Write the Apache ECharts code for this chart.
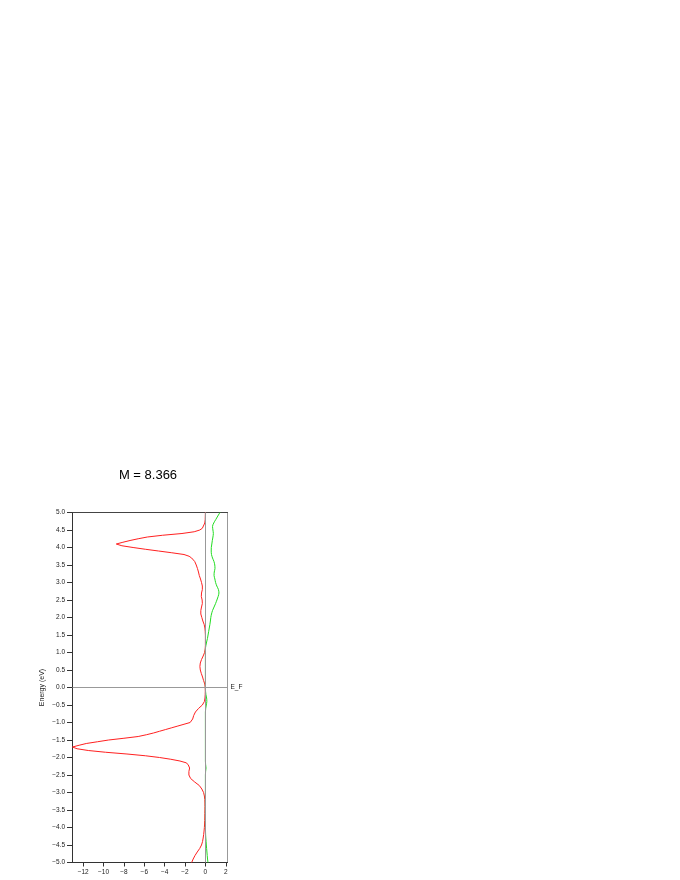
<!DOCTYPE html>
<html>
<head>
<meta charset="utf-8">
<script src="https://cdn.jsdelivr.net/npm/echarts@6/dist/echarts.min.js"></script>
<style>html,body{margin:0;padding:0;background:#fff}#c{width:680px;height:880px}</style>
</head>
<body>
<div id="c"></div>
<script>
// ---- data ----
const titleText = 'M = 8.366';
const xTickValues = [-12, -10, -8, -6, -4, -2, 0, 2];
const xRange = [-13.05, 2.17];
const yRange = [-5, 5];

const redEnergy = [
 -5.0,-4.9,-4.8,-4.7,-4.6,-4.5,-4.4,-4.3,-4.2,-4.1,
 -4.0,-3.9,-3.8,-3.7,-3.6,-3.5,-3.4,-3.3,-3.2,-3.1,
 -3.0,-2.9,-2.8,-2.7,-2.6,-2.5,-2.4,-2.3,-2.25,-2.2,
 -2.15,-2.1,-2.05,-2.0,-1.95,-1.9,-1.85,-1.8,-1.75,-1.7,
 -1.65,-1.6,-1.55,-1.5,-1.45,-1.4,-1.35,-1.3,-1.25,-1.2,
 -1.15,-1.1,-1.05,-1.0,-0.9,-0.8,-0.7,-0.6,-0.5,-0.4,
 -0.3,-0.2,-0.1,0.0,0.1,0.2,0.3,0.4,0.5,0.6,
 0.7,0.8,0.9,1.0,1.1,1.2,1.3,1.4,1.5,1.6,
 1.7,1.8,1.9,2.0,2.1,2.2,2.3,2.4,2.5,2.6,
 2.7,2.8,2.9,3.0,3.1,3.2,3.3,3.4,3.5,3.6,
 3.65,3.7,3.75,3.8,3.85,3.9,3.95,4.0,4.05,4.1,
 4.15,4.2,4.25,4.3,4.35,4.4,4.45,4.5,4.55,4.6,
 4.7,4.8,4.9,5.0
];
const redDos = [
 -1.35,-1.2,-1.02,-0.8,-0.56,-0.38,-0.28,-0.22,-0.17,-0.13,
 -0.1,-0.08,-0.07,-0.06,-0.06,-0.05,-0.05,-0.05,-0.06,-0.1,
 -0.18,-0.35,-0.6,-1.05,-1.45,-1.62,-1.62,-1.55,-1.55,-1.7,
 -1.9,-2.5,-3.4,-4.5,-5.9,-7.7,-9.8,-11.5,-12.6,-13.05,
 -12.4,-11.7,-10.6,-9.5,-8.0,-6.6,-5.8,-5.1,-4.5,-3.9,
 -3.3,-2.7,-2.1,-1.5,-1.25,-1.15,-0.98,-0.68,-0.3,-0.1,
 -0.04,-0.02,-0.01,-0.02,-0.06,-0.18,-0.28,-0.4,-0.5,-0.54,
 -0.5,-0.38,-0.22,-0.08,-0.02,0,0,0,0,-0.02,
 -0.05,-0.12,-0.25,-0.35,-0.45,-0.45,-0.38,-0.3,-0.32,-0.4,
 -0.38,-0.3,-0.3,-0.38,-0.48,-0.6,-0.68,-0.78,-0.9,-1.05,
 -1.2,-1.35,-1.6,-2.1,-3.3,-4.6,-5.9,-7.1,-8.2,-8.75,
 -8.1,-7.4,-6.6,-5.7,-4.2,-2.3,-1.1,-0.55,-0.3,-0.18,
 -0.06,-0.02,-0.01,0
];

const greenEnergy = [
 -5.0,-4.9,-4.8,-4.7,-4.6,-4.5,-4.4,-4.3,-4.2,-4.1,
 -4.0,-3.9,-3.8,-3.7,-3.6,-3.5,-3.4,-3.3,-3.2,-3.1,
 -3.0,-2.9,-2.8,-2.7,-2.6,-2.5,-2.4,-2.3,-2.2,-2.1,
 -2.0,-1.9,-1.8,-1.7,-1.6,-1.5,-1.4,-1.3,-1.2,-1.1,
 -1.0,-0.9,-0.8,-0.7,-0.6,-0.5,-0.4,-0.3,-0.2,-0.1,
 0.0,0.1,0.2,0.3,0.4,0.5,0.6,0.7,0.8,0.9,
 1.0,1.1,1.2,1.3,1.4,1.5,1.6,1.7,1.8,1.9,
 2.0,2.1,2.2,2.3,2.4,2.5,2.6,2.7,2.8,2.9,
 3.0,3.1,3.2,3.3,3.4,3.5,3.6,3.7,3.8,3.9,
 4.0,4.1,4.2,4.3,4.4,4.5,4.6,4.7,4.8,4.9,
 5.0
];
const greenDos = [
 0.25,0.21,0.18,0.15,0.12,0.09,0.07,0.04,0.02,0.01,
 0,0,0,0,0,0,0,0,0,0,
 0,0,0,0,0,0,0.02,0.06,0.02,0,
 0,0,0,0,0,0,0,0,0,0,
 0,0,0,0,0.03,0.09,0.14,0.12,0.05,0.01,
 0,0,0,0,0,0,0,0,0,0,
 0,0,0.05,0.12,0.2,0.26,0.32,0.38,0.44,0.49,
 0.53,0.6,0.7,0.85,1.0,1.13,1.25,1.33,1.28,1.12,
 1.0,0.93,0.85,0.87,0.94,0.92,0.84,0.7,0.6,0.57,
 0.58,0.63,0.68,0.74,0.78,0.74,0.7,0.82,1.02,1.22,
 1.43
];

// ---- chart ----
const FONT = 'Liberation Sans, Arial, sans-serif';
const fmtY = v => (v < 0 ? '\u2212' : '') + Math.abs(v).toFixed(1);
const fmtX = v => (v < 0 ? '\u2212' : '') + Math.abs(v);
const refLine = {color: '#999', width: 1, type: 'solid'};

const chart = echarts.init(document.getElementById('c'), null, {renderer: 'canvas'});
chart.setOption({
  animation: false,
  backgroundColor: '#fff',
  title: {
    text: titleText, left: 148, top: 469, textAlign: 'center', padding: 0,
    textStyle: {fontFamily: FONT, fontSize: 13, fontWeight: 'normal', color: '#000'}
  },
  grid: {left: 72.5, top: 512.5, width: 155, height: 350, containLabel: false},
  xAxis: [{
    type: 'value', min: xRange[0], max: xRange[1], position: 'bottom',
    axisLine: {show: true, onZero: false, lineStyle: {color: '#333', width: 1}},
    axisTick: {show: true, inside: false, length: 4, customValues: xTickValues, lineStyle: {color: '#333'}},
    axisLabel: {show: true, customValues: xTickValues, formatter: fmtX, margin: 6,
      fontFamily: FONT, fontSize: 6.5, color: '#222'},
    splitLine: {show: false}
  }, {
    type: 'value', min: xRange[0], max: xRange[1], position: 'top',
    axisLine: {show: true, onZero: false, lineStyle: {color: '#444', width: 1}},
    axisTick: {show: false}, axisLabel: {show: false}, splitLine: {show: false}
  }],
  yAxis: [{
    type: 'value', min: yRange[0], max: yRange[1], interval: 0.5, position: 'left',
    name: 'Energy (eV)', nameLocation: 'middle', nameGap: 27,
    nameTextStyle: {fontFamily: FONT, fontSize: 7, color: '#222'},
    axisLine: {show: true, onZero: false, lineStyle: {color: '#333', width: 1}},
    axisTick: {show: true, inside: false, length: 5.5, lineStyle: {color: '#333'}},
    axisLabel: {show: true, formatter: fmtY, margin: 7.5, fontFamily: FONT, fontSize: 6.5, color: '#222'},
    splitLine: {show: false}
  }, {
    type: 'value', min: yRange[0], max: yRange[1], position: 'right',
    axisLine: {show: true, onZero: false, lineStyle: {color: '#999', width: 1}},
    axisTick: {show: false}, axisLabel: {show: false}, splitLine: {show: false}
  }],
  series: [{
    type: 'line', name: 'ref', xAxisIndex: 0, yAxisIndex: 0, data: [], silent: true, z: 1,
    color: '#999',
    markLine: {
      silent: true, symbol: 'none', animation: false,
      lineStyle: refLine,
      data: [
        {yAxis: 0, lineStyle: refLine, label: {show: true, position: 'end', formatter: 'E_F', distance: 3,
          fontFamily: FONT, fontSize: 6.5, color: '#222'}},
        {xAxis: 0, lineStyle: refLine, label: {show: false}}
      ]
    }
  }, {
    type: 'line', name: 'red', xAxisIndex: 0, yAxisIndex: 0, z: 3,
    data: redEnergy.map((e, i) => [redDos[i], e]),
    showSymbol: false, smooth: false, silent: true,
    lineStyle: {color: '#ff2020', width: 1}
  }, {
    type: 'line', name: 'green', xAxisIndex: 0, yAxisIndex: 0, z: 4,
    data: greenEnergy.map((e, i) => [greenDos[i], e]),
    showSymbol: false, smooth: 0.3, silent: true,
    lineStyle: {color: '#22dd22', width: 1}
  }]
});
</script>
</body>
</html>
